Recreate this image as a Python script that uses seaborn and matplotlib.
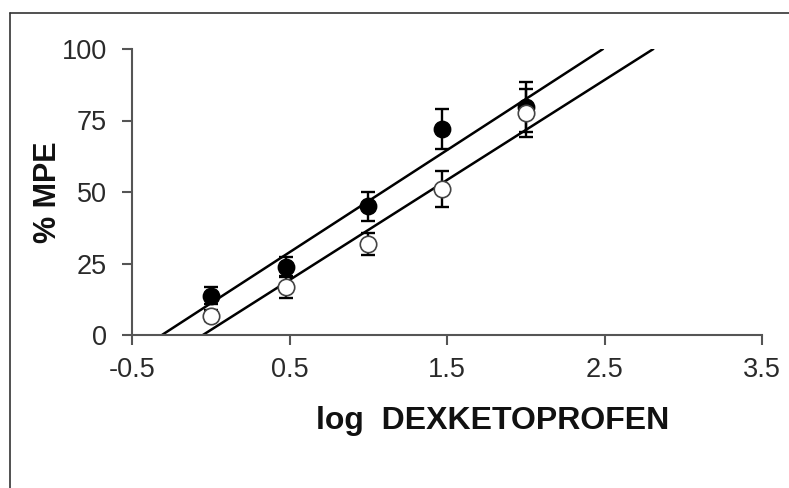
import matplotlib
matplotlib.use("Agg")
import matplotlib.pyplot as plt
import seaborn as sns
import pandas as pd
from matplotlib.lines import Line2D

# --- data ---
log_dose = [0.0, 0.48, 1.0, 1.47, 2.0]
filled_mpe = [13.8, 23.8, 45.0, 72.0, 79.8]
filled_err = [3.0, 3.5, 5.0, 7.0, 8.8]
open_mpe = [6.8, 16.8, 31.8, 51.0, 77.6]
open_err = [2.0, 3.8, 4.0, 6.2, 8.5]

# regression lines (end points on the 0 and 100 % MPE borders)
filled_line_x = [-0.31, 2.49]
open_line_x = [-0.05, 2.81]
line_y = [0, 100]

x_ticks = [-0.5, 0.5, 1.5, 2.5, 3.5]
y_ticks = [0, 25, 50, 75, 100]

sns.set_theme(style="white")
plt.rcParams['font.family'] = ['Liberation Sans', 'DejaVu Sans']

fig = plt.figure(figsize=(7.89, 4.88), dpi=100)
ax = fig.add_axes([132/789, 1-335/488, (762-132)/789, (335-49)/488])

df_lines = pd.DataFrame({
    "x": filled_line_x + open_line_x,
    "y": line_y + line_y,
    "grp": ["filled"]*2 + ["open"]*2,
})
sns.lineplot(data=df_lines, x="x", y="y", units="grp", estimator=None,
             color="black", linewidth=1.8, ax=ax, legend=False, zorder=2)

ax.errorbar(log_dose, filled_mpe, yerr=filled_err, fmt="none", ecolor="black",
            elinewidth=1.7, capsize=4.7, capthick=1.7, zorder=3)
ax.errorbar(log_dose, open_mpe, yerr=open_err, fmt="none", ecolor="black",
            elinewidth=1.7, capsize=4.7, capthick=1.7, zorder=3)

sns.scatterplot(x=log_dose, y=filled_mpe, ax=ax, s=140, color="black",
                edgecolor="black", linewidth=1.0, zorder=4, legend=False)
sns.scatterplot(x=log_dose, y=open_mpe, ax=ax, s=140, color="white",
                edgecolor="#444444", linewidth=1.2, zorder=5, legend=False)

ax.set_xlim(-0.5, 3.5)
ax.set_ylim(0, 100)
ax.set_xticks(x_ticks)
ax.set_xticklabels([f"{v:g}" for v in x_ticks])
ax.set_yticks(y_ticks)
ax.set_yticklabels([str(v) for v in y_ticks])

for s in ["top", "right"]:
    ax.spines[s].set_visible(False)
for s in ["left", "bottom"]:
    ax.spines[s].set_color("#555555")
    ax.spines[s].set_linewidth(1.5)
ax.tick_params(axis="both", which="major", direction="out", length=7,
               width=1.5, color="#555555", labelsize=19.5, labelcolor="#2a2a2a",
               bottom=True, left=True)
ax.tick_params(axis="y", pad=11)
ax.tick_params(axis="x", pad=9)

ax.set_ylabel("% MPE", fontsize=22, fontweight="bold", va="center",
              color="#111111")
ax.yaxis.set_label_coords((48-132)/630, 0.5)
ax.set_xlabel("log  DEXKETOPROFEN", fontsize=23, fontweight="bold",
              va="center", color="#111111")
ax.xaxis.set_label_coords((493-132)/630, (335-421)/286)

# figure border (top and left)
fig.add_artist(Line2D([9.5/789, 9.5/789], [0, 1-13/488],
                      transform=fig.transFigure, color="#333333", linewidth=1.2))
fig.add_artist(Line2D([9.5/789, 1], [1-13/488, 1-13/488],
                      transform=fig.transFigure, color="#333333", linewidth=1.2))

fig.savefig("out.png", dpi=100)
